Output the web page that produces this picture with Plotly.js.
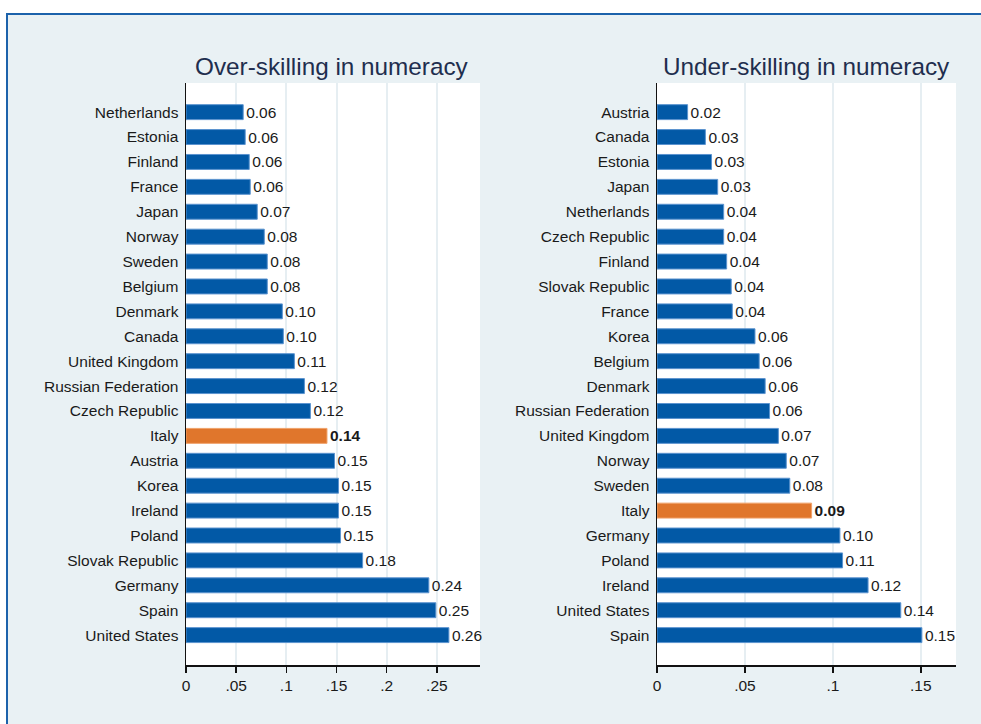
<!DOCTYPE html>
<html>
<head>
<meta charset="utf-8">
<script src="https://cdn.plot.ly/plotly-3.0.1.min.js"></script>
<style>html,body{margin:0;padding:0;background:#fff;}#chart{width:981px;height:724px;}</style>
</head>
<body>
<div id="chart"></div>
<script>
// Over-skilling in numeracy (top to bottom)
var overCountries = ["Netherlands","Estonia","Finland","France","Japan","Norway","Sweden","Belgium","Denmark","Canada","United Kingdom","Russian Federation","Czech Republic","Italy","Austria","Korea","Ireland","Poland","Slovak Republic","Germany","Spain","United States"];
var overValues = [0.057,0.059,0.063,0.064,0.071,0.078,0.081,0.081,0.096,0.097,0.108,0.118,0.124,0.1405,0.148,0.152,0.152,0.154,0.176,0.242,0.249,0.262];

// Under-skilling in numeracy (top to bottom)
var underCountries = ["Austria","Canada","Estonia","Japan","Netherlands","Czech Republic","Finland","Slovak Republic","France","Korea","Belgium","Denmark","Russian Federation","United Kingdom","Norway","Sweden","Italy","Germany","Poland","Ireland","United States","Spain"];
var underValues = [0.0174,0.0275,0.031,0.0345,0.0379,0.0379,0.0396,0.0422,0.0428,0.0557,0.0581,0.0615,0.064,0.069,0.0735,0.0755,0.0879,0.104,0.1055,0.120,0.1386,0.1506];

var overTickVals = [0,0.05,0.1,0.15,0.2,0.25];
var overTickText = ["0",".05",".1",".15",".2",".25"];
var underTickVals = [0,0.05,0.1,0.15];
var underTickText = ["0",".05",".1",".15"];

var titles = ["Over-skilling in numeracy","Under-skilling in numeracy"];
var highlight = "Italy";

var BLUE = "#0259a6", ORANGE = "#e0762c";
var FONT = "Liberation Sans, Arial, sans-serif";

function mk(countries, values, xa, ya) {
  return {
    type: "bar", orientation: "h",
    y: countries, x: values, xaxis: xa, yaxis: ya,
    marker: {
      color: countries.map(function(c){return c===highlight?ORANGE:BLUE;}),
      line: {color: countries.map(function(c){return c===highlight?"#f0a26a":"#5b93cf";}), width: 1}
    },
    text: values.map(function(v,i){var t=v.toFixed(2);return countries[i]===highlight?"<b>"+t+"</b>":t;}),
    textposition: "outside", cliponaxis: false, constraintext: "none",
    textfont: {family: FONT, size: 15.5, color: "#1a1a1a"},
    hoverinfo: "none", showlegend: false
  };
}

var data = [mk(overCountries, overValues, "x", "y"), mk(underCountries, underValues, "x2", "y2")];

var n = overCountries.length;
function xax(domain, range, tv, tt) {
  return {domain: domain, range: range, fixedrange: true,
    showline: true, linecolor: "#111", linewidth: 1.5,
    ticks: "outside", ticklen: 6, tickcolor: "#111", tickwidth: 1.5,
    tickvals: tv, ticktext: tt,
    tickfont: {family: FONT, size: 15.5, color: "#1a1a1a"},
    showgrid: true, gridcolor: "#e6eef2", gridwidth: 2, zeroline: false};
}
function yax(domain, anchor, cats) {
  return {domain: domain, anchor: anchor, type: "category",
    categoryorder: "array", categoryarray: cats,
    range: [n - 1 + 1.2, -1.17], fixedrange: true,
    showline: true, linecolor: "#111", linewidth: 1.5,
    ticks: "outside", ticklen: 3, tickcolor: "rgba(0,0,0,0)",
    tickfont: {family: FONT, size: 15.5, color: "#1a1a1a"},
    showgrid: false, zeroline: false};
}

var yd = [(724-665)/724, (724-83)/724];
var layout = {
  width: 981, height: 724,
  margin: {l: 0, r: 0, t: 0, b: 0},
  paper_bgcolor: "#e9f1f4", plot_bgcolor: "#ffffff",
  bargap: 0.4,
  xaxis: xax([186/981, 480/981], [0, 0.293], overTickVals, overTickText),
  yaxis: yax(yd, "x", overCountries),
  xaxis2: xax([657/981, 956/981], [0, 0.17], underTickVals, underTickText),
  yaxis2: yax(yd, "x2", underCountries),
  annotations: [
    {text: titles[0], xref: "paper", yref: "paper", x: 332/981, y: (724-66)/724, xanchor: "center", yanchor: "middle", showarrow: false, font: {family: FONT, size: 24.3, color: "#1f2e4e"}},
    {text: titles[1], xref: "paper", yref: "paper", x: 806/981, y: (724-66)/724, xanchor: "center", yanchor: "middle", showarrow: false, font: {family: FONT, size: 24.3, color: "#1f2e4e"}}
  ],
  shapes: [
    {type: "rect", xref: "paper", yref: "paper", x0: -0.01, x1: 1.01, y0: (724-13)/724, y1: 1.01, fillcolor: "#ffffff", line: {width: 0}, layer: "above"},
    {type: "rect", xref: "paper", yref: "paper", x0: -0.01, x1: 6/981, y0: -0.01, y1: 1.01, fillcolor: "#ffffff", line: {width: 0}, layer: "above"},
    {type: "rect", xref: "paper", yref: "paper", x0: 7/981, x1: 1.02, y0: -0.02, y1: (724-14)/724, line: {color: "#1c62ab", width: 2}, layer: "above"}
  ]
};

Plotly.newPlot("chart", data, layout, {staticPlot: true, displayModeBar: false});
</script>
</body>
</html>
